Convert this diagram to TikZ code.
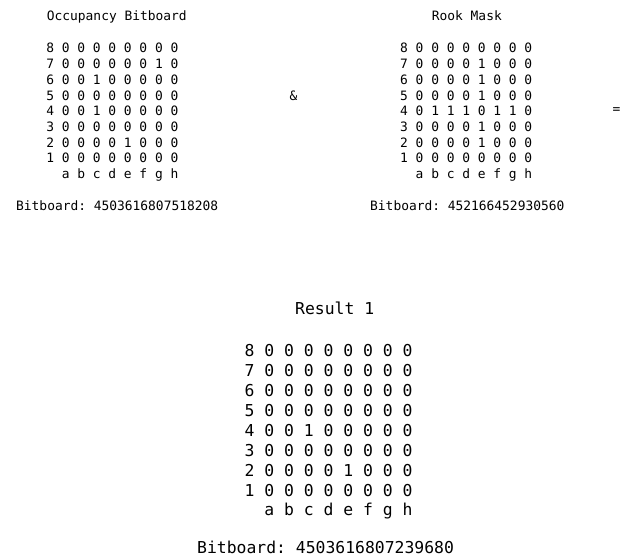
\documentclass[tikz,border=0pt]{standalone}
\usepackage{fontspec}
\newfontfamily\bbmono{DejaVu Sans Mono}
\frenchspacing
\begin{document}
\begin{tikzpicture}[x=1pt,y=-1pt,
  smalltxt/.style={font=\fontsize{12.9}{15}\bbmono, inner sep=0, anchor=base west},
  bigtxt/.style={font=\fontsize{16.4}{20}\bbmono, inner sep=0, anchor=base west},
  optxt/.style={font=\fontsize{12.9}{15}\bbmono, inner sep=0, anchor=center}]
\useasboundingbox[fill=white] (0,0) rectangle (627,556);

% ---- Occupancy bitboard (top left)
\node[smalltxt] (occT) at (46.7,21) {Occupancy Bitboard};
\node[smalltxt] (occ8) at (46.1,53.0) {8 0 0 0 0 0 0 0 0};
\node[smalltxt] (occ7) at (46.1,68.7) {7 0 0 0 0 0 0 1 0};
\node[smalltxt] (occ6) at (46.1,84.4) {6 0 0 1 0 0 0 0 0};
\node[smalltxt] (occ5) at (46.1,100.1) {5 0 0 0 0 0 0 0 0};
\node[smalltxt] (occ4) at (46.1,115.8) {4 0 0 1 0 0 0 0 0};
\node[smalltxt] (occ3) at (46.1,131.5) {3 0 0 0 0 0 0 0 0};
\node[smalltxt] (occ2) at (46.1,147.2) {2 0 0 0 0 1 0 0 0};
\node[smalltxt] (occ1) at (46.1,163.0) {1 0 0 0 0 0 0 0 0};
\node[smalltxt] (occF) at (46.1,178.7) {\phantom{8} a b c d e f g h};
\node[smalltxt] (occB) at (16,211) {Bitboard: 4503616807518208};

% ---- operator
\node[optxt] (amp) at (293.5,96) {\&};

% ---- Rook mask (top right)
\node[smalltxt] (rkT) at (431.7,21) {Rook Mask};
\node[smalltxt] (rk8) at (400,53.0) {8 0 0 0 0 0 0 0 0};
\node[smalltxt] (rk7) at (400,68.7) {7 0 0 0 0 1 0 0 0};
\node[smalltxt] (rk6) at (400,84.4) {6 0 0 0 0 1 0 0 0};
\node[smalltxt] (rk5) at (400,100.1) {5 0 0 0 0 1 0 0 0};
\node[smalltxt] (rk4) at (400,115.8) {4 0 1 1 1 0 1 1 0};
\node[smalltxt] (rk3) at (400,131.5) {3 0 0 0 0 1 0 0 0};
\node[smalltxt] (rk2) at (400,147.2) {2 0 0 0 0 1 0 0 0};
\node[smalltxt] (rk1) at (400,163.0) {1 0 0 0 0 0 0 0 0};
\node[smalltxt] (rkF) at (400,178.7) {\phantom{8} a b c d e f g h};
\node[smalltxt] (rkB) at (370,211) {Bitboard: 452166452930560};

\node[optxt] (eq) at (616.5,111) {=};

% ---- Result (bottom)
\node[bigtxt] (resT) at (295,315) {Result 1};
\node[bigtxt] (res8) at (244.4,356) {8 0 0 0 0 0 0 0 0};
\node[bigtxt] (res7) at (244.4,376) {7 0 0 0 0 0 0 0 0};
\node[bigtxt] (res6) at (244.4,396) {6 0 0 0 0 0 0 0 0};
\node[bigtxt] (res5) at (244.4,416) {5 0 0 0 0 0 0 0 0};
\node[bigtxt] (res4) at (244.4,436) {4 0 0 1 0 0 0 0 0};
\node[bigtxt] (res3) at (244.4,456) {3 0 0 0 0 0 0 0 0};
\node[bigtxt] (res2) at (244.4,476) {2 0 0 0 0 1 0 0 0};
\node[bigtxt] (res1) at (244.4,496) {1 0 0 0 0 0 0 0 0};
\node[bigtxt] (resF) at (244.4,515) {\phantom{8} a b c d e f g h};
\node[bigtxt] (resB) at (197,553.5) {Bitboard: 4503616807239680};
\end{tikzpicture}
\end{document}
